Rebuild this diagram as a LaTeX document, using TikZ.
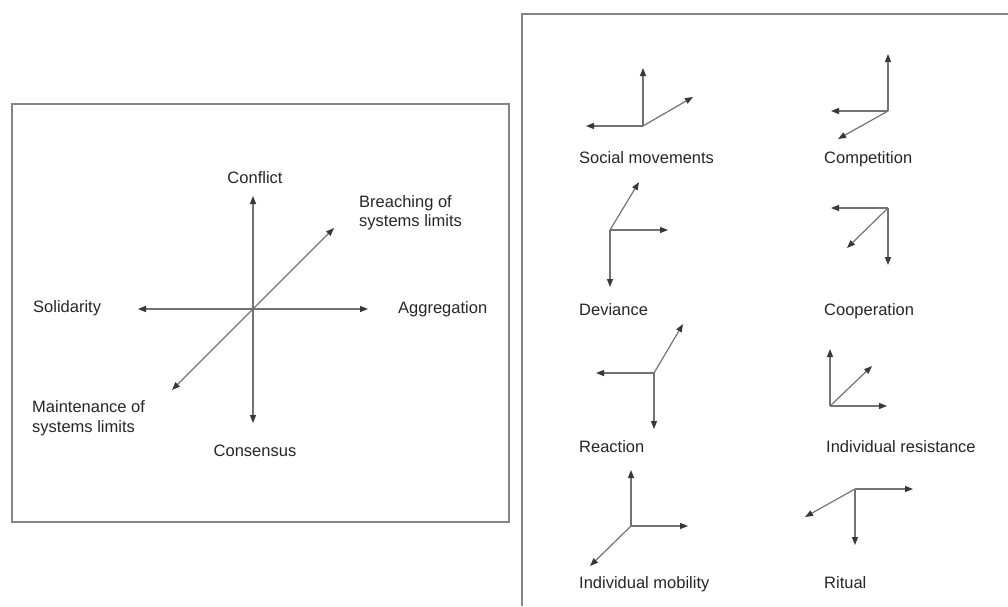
\documentclass[tikz,border=0pt]{standalone}
\usepackage{fontspec}
\setmainfont{Liberation Sans}
\usetikzlibrary{arrows.meta}
\begin{document}
\begin{tikzpicture}[x=1pt,y=-1pt,
  ax/.style={draw=black!55, line width=1.2pt, -{Triangle[length=8pt,width=6pt,color=black!78]}},
  lbl/.style={font=\fontsize{16.5}{19}\selectfont, text=black!85, inner sep=0pt, anchor=base west},
  frame/.style={draw=black!48, line width=1.4pt}]
\useasboundingbox (0,0) rectangle (1008,606);
% frames
\draw[frame] (12,104) rectangle (509,522);
\coordinate (pA) at (522,606);
\coordinate (pB) at (522,14);
\coordinate (pC) at (1008,14);
\draw[frame] (pA) -- (pB) -- (pC);
% left diagram
\coordinate (O) at (253,309);
\coordinate (cU) at (253,196);
\coordinate (cD) at (253,423);
\coordinate (cL) at (138,309);
\coordinate (cR) at (368,309);
\coordinate (cUR) at (334,228);
\coordinate (cDL) at (172,390);
\foreach \t in {cU,cD,cL,cR,cUR,cDL} \draw[ax] (O) -- (\t);
\node[lbl, anchor=base] (conflict) at (255,183) {Conflict};
\node[lbl] (breach1) at (359,207) {Breaching of};
\node[lbl] (breach2) at (359,226) {systems limits};
\node[lbl] (solid) at (33,312) {Solidarity};
\node[lbl] (aggr) at (398,313) {Aggregation};
\node[lbl] (maint1) at (32,412) {Maintenance of};
\node[lbl] (maint2) at (32,432) {systems limits};
\node[lbl, anchor=base] (cons) at (255,456) {Consensus};
% right icons
\coordinate (a0) at (643,126); \coordinate (a1) at (643,68); \coordinate (a2) at (586,126); \coordinate (a3) at (693,97);
\coordinate (b0) at (888,111); \coordinate (b1) at (888,54); \coordinate (b2) at (831,111); \coordinate (b3) at (838,139);
\coordinate (c0) at (610,230); \coordinate (c1) at (668,230); \coordinate (c2) at (610,287); \coordinate (c3) at (639,182);
\coordinate (d0) at (888,208); \coordinate (d1) at (831,208); \coordinate (d2) at (888,265); \coordinate (d3) at (847,248);
\coordinate (e0) at (654,373); \coordinate (e1) at (596,373); \coordinate (e2) at (654,429); \coordinate (e3) at (683,324);
\coordinate (f0) at (830,406); \coordinate (f1) at (830,349); \coordinate (f2) at (887,406); \coordinate (f3) at (872,366);
\coordinate (g0) at (631,526); \coordinate (g1) at (631,470); \coordinate (g2) at (688,526); \coordinate (g3) at (590,566);
\coordinate (h0) at (855,489); \coordinate (h1) at (913,489); \coordinate (h2) at (855,545); \coordinate (h3) at (805,517);
\foreach \k in {a,b,c,d,e,f,g,h}{
  \draw[ax] (\k0) -- (\k1);
  \draw[ax] (\k0) -- (\k2);
  \draw[ax] (\k0) -- (\k3);
}
\node[lbl] (lsm) at (579,163) {Social movements};
\node[lbl] (lcomp) at (824,163) {Competition};
\node[lbl] (ldev) at (579,315) {Deviance};
\node[lbl] (lcoop) at (824,315) {Cooperation};
\node[lbl] (lreac) at (579,452) {Reaction};
\node[lbl] (lires) at (826,452) {Individual resistance};
\node[lbl] (limob) at (579,588) {Individual mobility};
\node[lbl] (lrit) at (824,588) {Ritual};
\end{tikzpicture}
\end{document}
